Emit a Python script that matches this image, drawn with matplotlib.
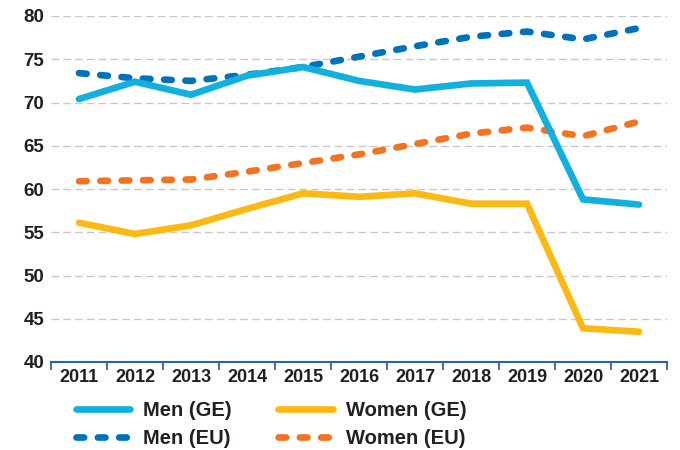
import matplotlib
matplotlib.use("Agg")
import matplotlib.pyplot as plt
from matplotlib.lines import Line2D

plt.rcParams['font.family'] = ['Liberation Sans', 'DejaVu Sans']

years = [2011, 2012, 2013, 2014, 2015, 2016, 2017, 2018, 2019, 2020, 2021]
men_ge = [70.4, 72.4, 70.9, 73.1, 74.1, 72.5, 71.5, 72.2, 72.3, 58.8, 58.2]
women_ge = [56.1, 54.8, 55.8, 57.7, 59.5, 59.1, 59.5, 58.3, 58.3, 43.9, 43.5]
men_eu = [73.4, 72.8, 72.5, 73.2, 74.1, 75.3, 76.5, 77.6, 78.2, 77.3, 78.6]
women_eu = [60.9, 61.0, 61.1, 62.0, 63.0, 64.0, 65.2, 66.4, 67.1, 66.1, 67.8]
yticks = [40, 45, 50, 55, 60, 65, 70, 75, 80]

c_men_ge = '#12b0de'
c_women_ge = '#fdb913'
c_men_eu = '#0072bc'
c_women_eu = '#f47321'
txt = '#231f20'

fig = plt.figure(figsize=(6.8, 4.5), dpi=100)
ax = fig.add_axes([51/680, 1-362/450, (667-51)/680, (362-16)/450])

lw = 4.8
dash = (1.15, 2.05)
ax.plot(years, men_eu, color=c_men_eu, lw=lw, dashes=dash, dash_capstyle='round', zorder=3)
ax.plot(years, women_eu, color=c_women_eu, lw=lw, dashes=dash, dash_capstyle='round', zorder=3)
ax.plot(years, men_ge, color=c_men_ge, lw=lw, solid_capstyle='round', solid_joinstyle='miter', zorder=4)
ax.plot(years, women_ge, color=c_women_ge, lw=lw, solid_capstyle='round', solid_joinstyle='miter', zorder=4)

ax.set_xlim(years[0]-0.5, years[-1]+0.5)
ax.set_ylim(40, 80)
ax.set_yticks(yticks)
ax.set_yticklabels([str(v) for v in yticks], fontsize=13.5, fontweight='bold', color=txt)
ax.tick_params(axis='y', length=0, pad=5)
for v in yticks[1:]:
    ax.axhline(v, color='#c8c8c8', lw=1.0, ls=(0, (5.5, 3)), zorder=1)

ax.set_xticks([y - 0.5 for y in years] + [years[-1] + 0.5])
ax.set_xticklabels([])
ax.set_xticks(years, minor=True)
ax.set_xticklabels([str(y) for y in years], minor=True, fontsize=13, fontweight='bold', color=txt)
ax.tick_params(axis='x', which='major', direction='out', length=6, width=1.3, color='#2a64a0')
ax.tick_params(axis='x', which='minor', length=0, pad=5)

for s in ['top', 'right', 'left']:
    ax.spines[s].set_visible(False)
ax.spines['bottom'].set_color('#2a64a0')
ax.spines['bottom'].set_linewidth(1.5)

handles = [
    Line2D([], [], color=c_men_ge, lw=lw, solid_capstyle='round'),
    Line2D([], [], color=c_men_eu, lw=lw, dashes=dash, dash_capstyle='round'),
    Line2D([], [], color=c_women_ge, lw=lw, solid_capstyle='round'),
    Line2D([], [], color=c_women_eu, lw=lw, dashes=dash, dash_capstyle='round'),
]
labels = ['Men (GE)', 'Men (EU)', 'Women (GE)', 'Women (EU)']
fs = 14.5
leg = fig.legend(handles, labels, ncol=2, loc='upper left', bbox_to_anchor=(76/680, 1-401/450),
                 frameon=False, prop={'size': fs, 'weight': 'bold'}, handlelength=2.7,
                 columnspacing=2.3, handletextpad=0.65, labelspacing=0.43, labelcolor=txt,
                 borderpad=0, borderaxespad=0)

fig.savefig('out.png', dpi=100)
